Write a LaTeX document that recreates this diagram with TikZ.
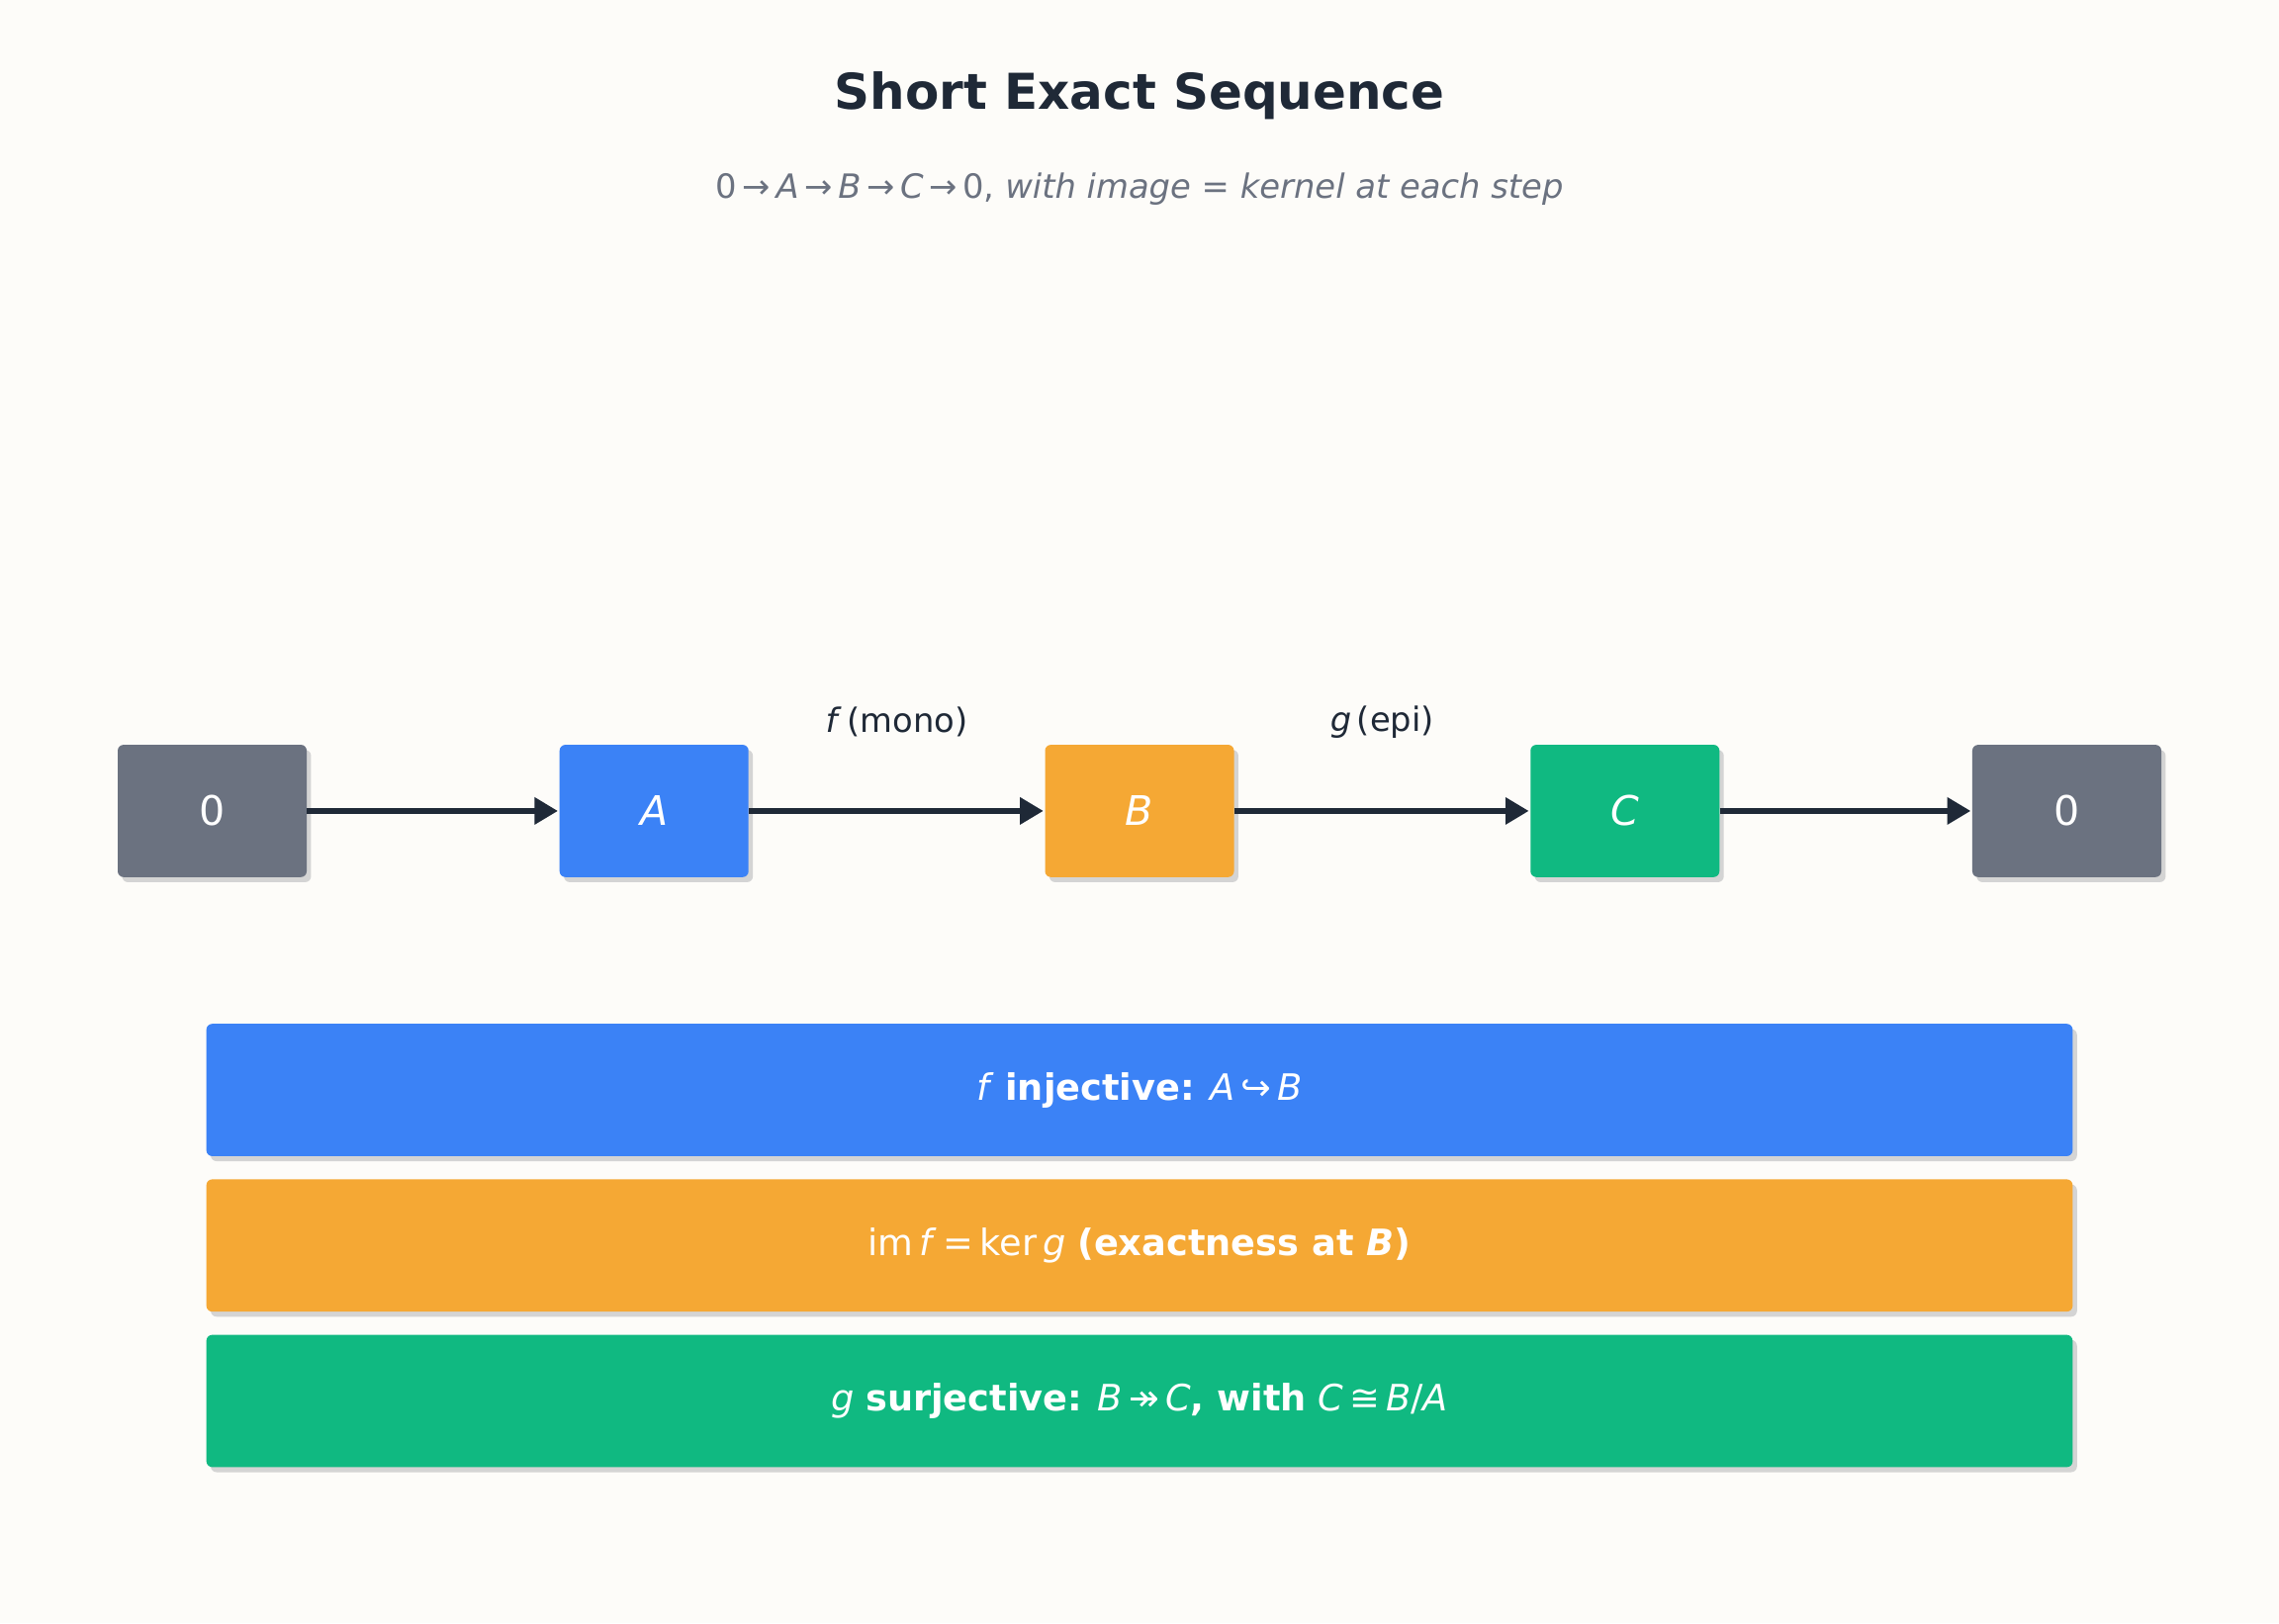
\documentclass[tikz,border=0pt]{standalone}
\usepackage{fontspec}
\setmainfont{DejaVu Sans}
\usetikzlibrary{arrows.meta}
\definecolor{bg}{HTML}{FDFCF9}
\definecolor{cgray}{HTML}{6B7280}
\definecolor{cblue}{HTML}{3B82F6}
\definecolor{corange}{HTML}{F5A834}
\definecolor{cgreen}{HTML}{10B981}
\definecolor{dark}{HTML}{1F2937}
\definecolor{shad}{HTML}{D4D4D4}
\begin{document}
\begin{tikzpicture}[x=1pt,y=-1pt,
  box/.style={rounded corners=4pt,minimum width=130pt,minimum height=91pt,text=white,font=\fontsize{28}{32}\selectfont,inner sep=0pt},
  bar/.style={rounded corners=4pt,minimum width=1284pt,minimum height=91pt,text=white,font=\fontsize{25}{30}\selectfont,inner sep=0pt},
  sh/.style={fill=shad,rounded corners=4pt},
  arr/.style={draw=dark,line width=3.5pt,-{Triangle[length=16pt,width=18pt]},shorten >=1pt},
  lab/.style={text=dark,font=\fontsize{23}{28}\selectfont}]
\fill[bg] (0,0) rectangle (1568,1117);
\useasboundingbox (0,0) rectangle (1568,1117);
\node[text=dark,font=\fontsize{34}{40}\selectfont\bfseries] (title) at (784,66) {Short Exact Sequence};
\node[text=cgray,font=\fontsize{23}{28}\selectfont] (sub) at (784,130) {0\,→\,\textit{A}\,→\,\textit{B}\,→\,\textit{C}\,→\,0, \textit{with image = kernel at each step}};
\foreach \x in {146,450,784,1118,1422} \fill[sh] (\x-62,516) rectangle (\x+68,607);
\foreach \y in {750,857,964} \fill[sh] (145,\y-42) rectangle (1429,\y+49);
\node[box,fill=cgray] (z1) at (146,558) {0};
\node[box,fill=cblue] (A) at (450,558) {\textit{A}};
\node[box,fill=corange] (B) at (784,558) {\textit{B}};
\node[box,fill=cgreen] (C) at (1118,558) {\textit{C}};
\node[box,fill=cgray] (z2) at (1422,558) {0};
\draw[arr] (z1) -- (A);
\draw[arr] (A) -- (B);
\draw[arr] (B) -- (C);
\draw[arr] (C) -- (z2);
\node[lab] (fl) at (617,497) {\textit{f}\,(mono)};
\node[lab] (gl) at (951,497) {\textit{g}\,(epi)};
\node[bar,fill=cblue] (b1) at (784,750) {\textit{f} \textbf{injective:} \textit{A}\,↪\,\textit{B}};
\node[bar,fill=corange] (b2) at (784,857) {im\,\textit{f}\,=\,ker\,\textit{g} \textbf{(exactness at \textit{B})}};
\node[bar,fill=cgreen] (b3) at (784,964) {\textit{g} \textbf{surjective:} \textit{B}\,↠\,\textit{C}\textbf{, with} \textit{C}\,≅\,\textit{B}/\textit{A}};
\end{tikzpicture}
\end{document}
